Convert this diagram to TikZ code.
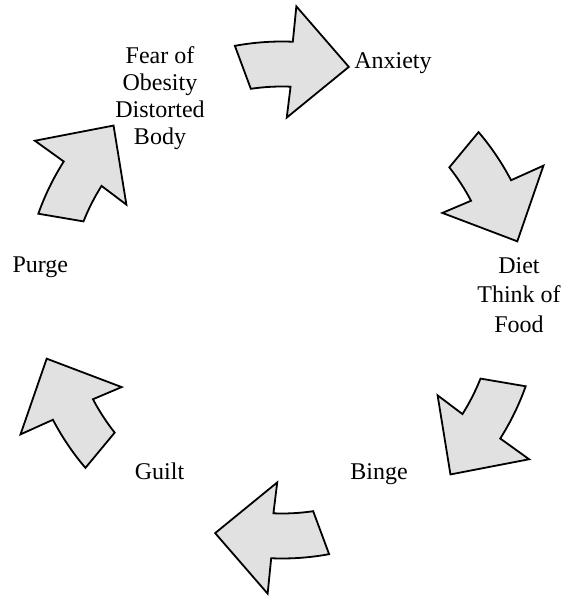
\documentclass[tikz,border=0pt]{standalone}
\usepackage{fontspec}
\setmainfont{Liberation Serif}
\definecolor{arrowgray}{RGB}{225,225,225}
\begin{document}
\begin{tikzpicture}[x=1pt,y=1pt,
  stage/.style={font=\fontsize{24}{27.2}\selectfont, align=center, anchor=base, inner sep=0pt},
  cyclearrow/.style={draw=black, fill=arrowgray, line width=1.8pt, line join=miter}]
\useasboundingbox (0,0) rectangle (565,598);

% stages of the cycle (base = baseline of the last line)
\node[stage] (fear)    at (160,453) {Fear of\\Obesity\\Distorted\\Body};
\node[stage] (anxiety) at (393,529) {Anxiety};
\node[stage, font=\fontsize{24}{29.7}\selectfont] (diet) at (519,265.3) {Diet\\Think of\\Food};
\node[stage] (binge)   at (379,118) {Binge};
\node[stage] (guilt)   at (159.5,118) {Guilt};
\node[stage] (purge)   at (40.3,325) {Purge};

% curved block arrows around the centre of the cycle
\begin{scope}[shift={(282,298)}]
  \foreach \t in {100,40,-20,-80,-140,-200}{
    \draw[cyclearrow]
      (\t+0.5:258.5pt) arc[start angle=\t+0.5, end angle=\t-12.4, radius=258.5pt]
      -- (\t-12.8:294pt)
      -- (\t-26:242.5pt)
      -- (\t-11.5:182.5pt)
      -- (\t-12.3:213.5pt) arc[start angle=\t-12.3, end angle=\t-1.6, radius=213.5pt]
      -- cycle;
  }
\end{scope}
\end{tikzpicture}
\end{document}
